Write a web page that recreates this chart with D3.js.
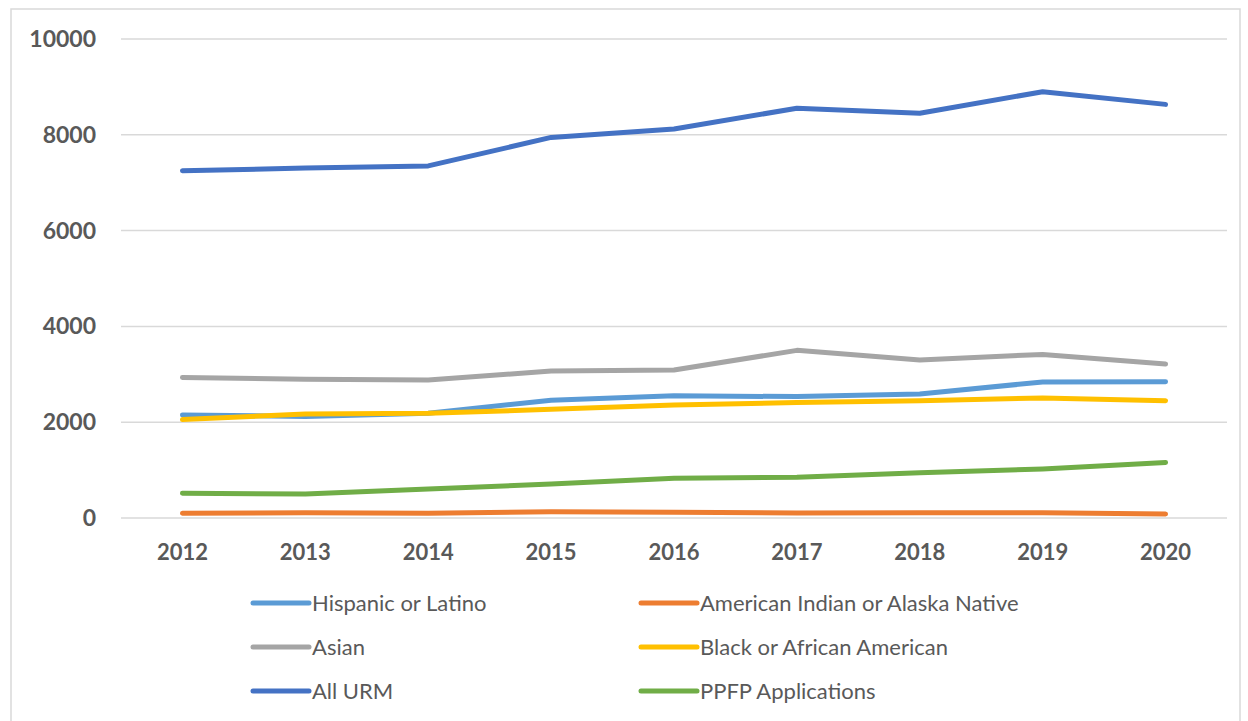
<!DOCTYPE html>
<html>
<head>
<meta charset="utf-8">
<script src="https://cdn.jsdelivr.net/npm/d3@7"></script>
<style>
  body { margin: 0; background: #fff; }
  svg { display: block; font-family: Lato, "Open Sans", sans-serif; }
</style>
</head>
<body>
<div id="chart"></div>
<script>
const years = ['2012', '2013', '2014', '2015', '2016', '2017', '2018', '2019', '2020'];
const yTicks = [0, 2000, 4000, 6000, 8000, 10000];

const hispanic = [2150, 2120, 2185, 2460, 2550, 2535, 2590, 2840, 2845];
const amIndian = [100, 110, 100, 130, 120, 105, 110, 110, 85];
const asian = [2935, 2895, 2880, 3070, 3090, 3500, 3300, 3415, 3215];
const black = [2055, 2170, 2185, 2270, 2360, 2410, 2450, 2505, 2450];
const allUrm = [7250, 7305, 7350, 7945, 8120, 8555, 8450, 8900, 8635];
const ppfp = [515, 500, 605, 710, 830, 850, 945, 1025, 1160];

const seriesNames = ['Hispanic or Latino', 'American Indian or Alaska Native', 'Asian',
  'Black or African American', 'All URM', 'PPFP Applications'];
const seriesValues = [hispanic, amIndian, asian, black, allUrm, ppfp];
const colors = ['#5B9BD5', '#ED7D31', '#A5A5A5', '#FFC000', '#4472C4', '#70AD47'];

const width = 1248, height = 721;

const svg = d3.select('#chart').append('svg')
    .attr('width', width)
    .attr('height', height);

// chart area border
svg.append('rect')
    .attr('x', 11).attr('y', 9)
    .attr('width', 1229).attr('height', 720)
    .attr('fill', '#fff')
    .attr('stroke', '#D9D9D9')
    .attr('stroke-width', 1.5);

const x = d3.scalePoint()
    .domain(years)
    .range([121, 1227])
    .padding(0.5);

const y = d3.scaleLinear()
    .domain([0, 10000])
    .range([518, 39]);

// gridlines
svg.append('g')
    .selectAll('line')
    .data(yTicks)
  .enter().append('line')
    .attr('x1', 121).attr('x2', 1227)
    .attr('y1', d => y(d)).attr('y2', d => y(d))
    .attr('stroke', '#D9D9D9')
    .attr('stroke-width', 1.5);

// y labels
svg.append('g')
    .selectAll('text')
    .data(yTicks)
  .enter().append('text')
    .attr('x', 96)
    .attr('y', d => y(d))
    .attr('dy', '0.35em')
    .attr('text-anchor', 'end')
    .attr('font-size', 23)
    .attr('font-weight', 'bold')
    .attr('fill', '#595959')
    .text(d => d);

// x labels
svg.append('g')
    .selectAll('text')
    .data(years)
  .enter().append('text')
    .attr('x', d => x(d))
    .attr('y', 560)
    .attr('text-anchor', 'middle')
    .attr('font-size', 22)
    .attr('font-weight', 'bold')
    .attr('fill', '#595959')
    .text(d => d);

const line = d3.line()
    .x((d, i) => x(years[i]))
    .y(d => y(d));

svg.append('g')
    .selectAll('path')
    .data(seriesValues)
  .enter().append('path')
    .attr('d', line)
    .attr('fill', 'none')
    .attr('stroke', (d, i) => colors[i])
    .attr('stroke-width', 5)
    .attr('stroke-linecap', 'round')
    .attr('stroke-linejoin', 'round');

// legend, two columns
const legendCols = [253, 641];
const legendRows = [603, 647, 691];

const legend = svg.append('g')
    .selectAll('g')
    .data(seriesNames)
  .enter().append('g')
    .attr('transform', (d, i) => `translate(${legendCols[i % 2]},${legendRows[Math.floor(i / 2)]})`);

legend.append('line')
    .attr('x1', 0).attr('x2', 56)
    .attr('stroke', (d, i) => colors[i])
    .attr('stroke-width', 5)
    .attr('stroke-linecap', 'round');

legend.append('text')
    .attr('x', 59)
    .attr('dy', '0.35em')
    .attr('font-size', 22)
    .attr('fill', '#595959')
    .text(d => d);
</script>
</body>
</html>
